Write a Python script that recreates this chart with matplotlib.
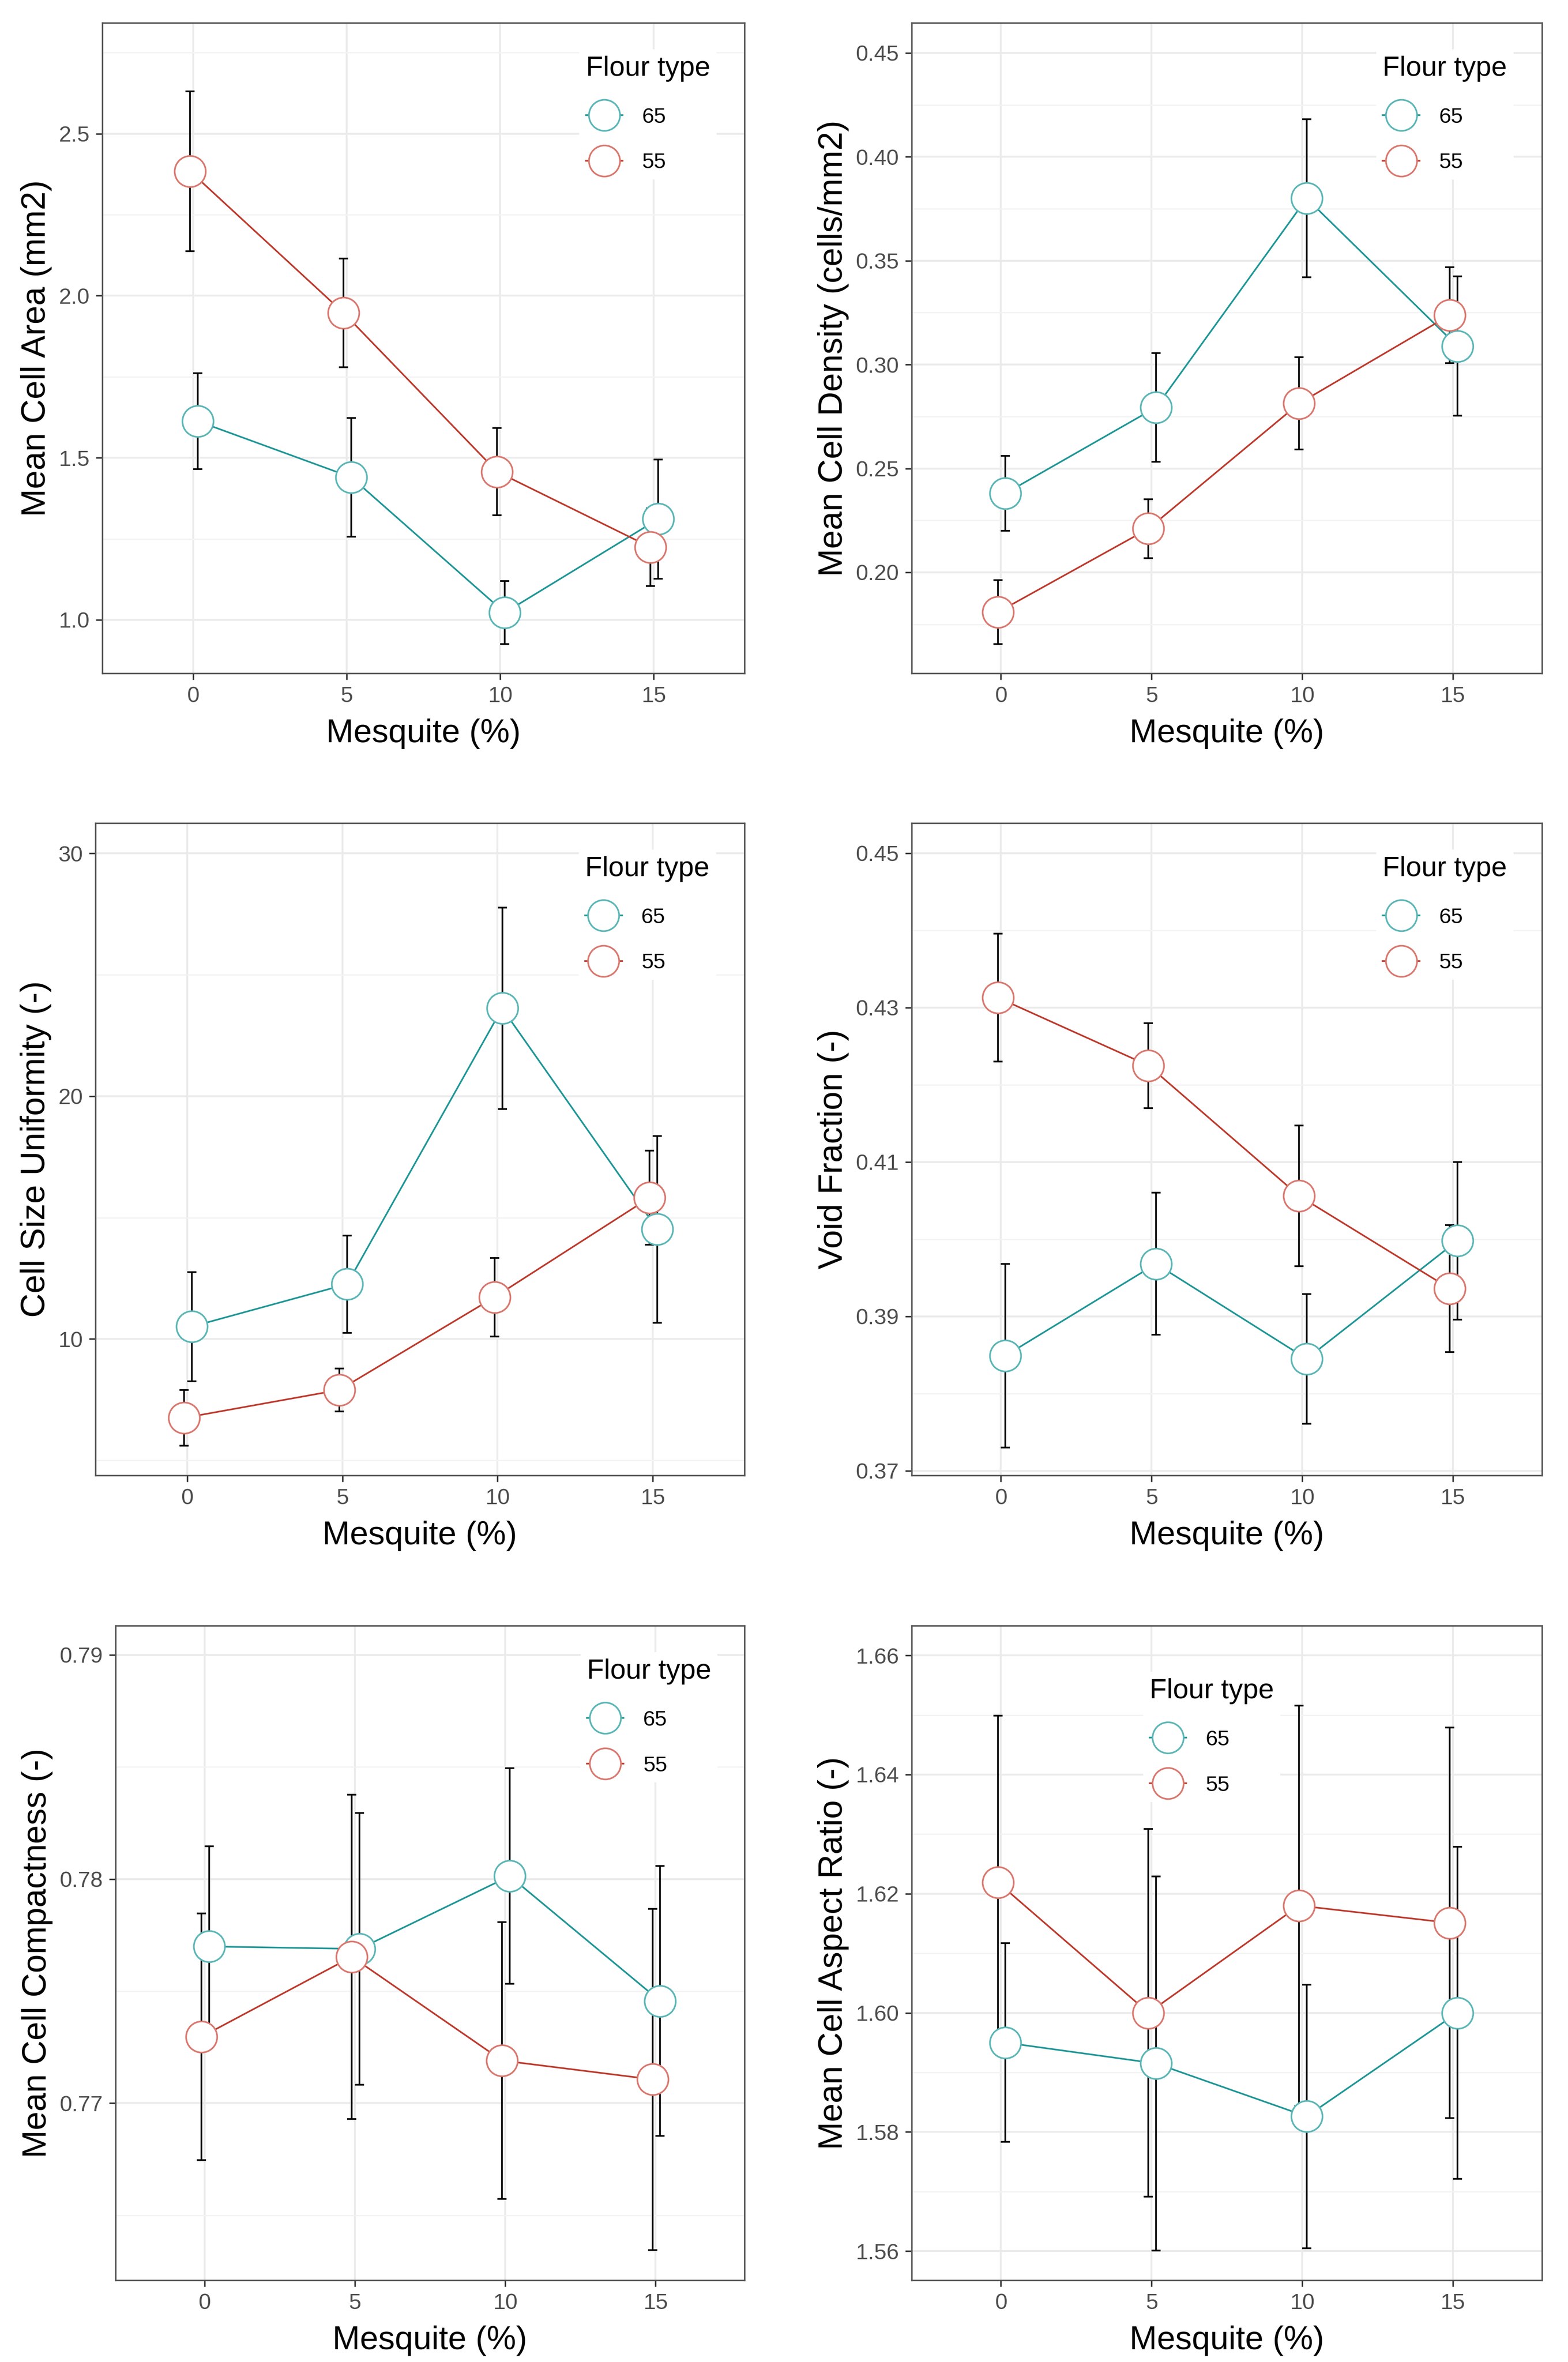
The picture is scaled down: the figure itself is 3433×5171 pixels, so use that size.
import numpy as np
import matplotlib.pyplot as plt
from matplotlib.lines import Line2D

plt.rcParams['font.family'] = ['Liberation Sans', 'DejaVu Sans']

mesquite = [0, 5, 10, 15]
flour_types = ['65', '55']
x_ticks = [0, 5, 10, 15]

# means and half error bars
area_65 = [1.613, 1.440, 1.022, 1.311]
area_65_err = [0.148, 0.183, 0.097, 0.184]
area_55 = [2.384, 1.947, 1.457, 1.224]
area_55_err = [0.247, 0.168, 0.135, 0.120]

density_65 = [0.2380, 0.2794, 0.3800, 0.3089]
density_65_err = [0.0181, 0.0261, 0.0380, 0.0336]
density_55 = [0.1808, 0.2210, 0.2813, 0.3238]
density_55_err = [0.0154, 0.0141, 0.0222, 0.0230]

uniform_65 = [10.51, 12.26, 23.62, 14.52]
uniform_65_err = [2.25, 2.00, 4.15, 3.85]
uniform_55 = [6.75, 7.90, 11.72, 15.82]
uniform_55_err = [1.15, 0.88, 1.62, 1.94]

void_65 = [0.3849, 0.3968, 0.3845, 0.3998]
void_65_err = [0.0119, 0.0092, 0.0084, 0.0102]
void_55 = [0.4313, 0.4225, 0.4056, 0.3936]
void_55_err = [0.0083, 0.0055, 0.0091, 0.0082]

compact_65 = [0.77699, 0.77688, 0.78013, 0.77456]
compact_65_err = [0.00447, 0.00606, 0.00481, 0.00603]
compact_55 = [0.77296, 0.77653, 0.77190, 0.77106]
compact_55_err = [0.00550, 0.00723, 0.00617, 0.00761]

aspect_65 = [1.5950, 1.5915, 1.5826, 1.6000]
aspect_65_err = [0.0167, 0.0314, 0.0221, 0.0279]
aspect_55 = [1.6219, 1.6000, 1.6180, 1.6151]
aspect_55_err = [0.0280, 0.0309, 0.0336, 0.0328]

area_ticks = [1.0, 1.5, 2.0, 2.5]
density_ticks = [0.20, 0.25, 0.30, 0.35, 0.40, 0.45]
uniform_ticks = [10, 20, 30]
void_ticks = [0.37, 0.39, 0.41, 0.43, 0.45]
compact_ticks = [0.77, 0.78, 0.79]
aspect_ticks = [1.56, 1.58, 1.60, 1.62, 1.64, 1.66]

W, H = 3433, 5171
fig = plt.figure(figsize=(W / 100, H / 100), dpi=100)

line_col = {'65': '#1f9696', '55': '#bd3a2d'}
edge_col = {'65': '#5cb6b6', '55': '#d9786f'}
dodge = {'65': 0.15, '55': -0.1}


def panel(rect, ylabel, s65, e65, s55, e55, yticks, fmt, ylim, legend_xy):
    l, r, t, b = rect
    ax = fig.add_axes([l / W, 1 - b / H, (r - l) / W, (b - t) / H])
    series = {'65': (s65, e65), '55': (s55, e55)}
    xs = {k: np.array(mesquite) + dodge[k] for k in flour_types}
    for k in flour_types:
        ax.errorbar(xs[k], series[k][0], yerr=series[k][1], fmt='none',
                    ecolor='black', elinewidth=2.6, capsize=7, capthick=2.6, zorder=3)
    for k in flour_types:
        ax.plot(xs[k], series[k][0], color=line_col[k], lw=2.6, zorder=4)
    for k in flour_types:
        ax.plot(xs[k], series[k][0], 'o', ms=49, mfc='white', mec=edge_col[k],
                mew=2.6, zorder=5)

    ax.set_xticks(x_ticks)
    ax.set_yticks(yticks)
    ax.set_yticklabels([fmt.format(v) for v in yticks])
    step = yticks[1] - yticks[0]
    minors = [v + step / 2 for v in [yticks[0] - step] + list(yticks)]
    ax.set_yticks(minors, minor=True)
    ax.set_xlim(-2.96, 17.96)
    ax.set_ylim(*ylim)
    ax.tick_params(which='minor', length=0)
    ax.tick_params(which='major', length=10, width=2.4, color='#333333',
                   labelsize=35, labelcolor='#4d4d4d', pad=10)
    ax.grid(True, which='major', color='#ebebeb', lw=3, zorder=0)
    ax.grid(True, which='minor', axis='y', color='#f3f3f3', lw=2, zorder=0)
    ax.set_axisbelow(True)
    for sp in ax.spines.values():
        sp.set_color('#555555')
        sp.set_linewidth(2.4)
    ax.set_xlabel('Mesquite (%)', fontsize=52, labelpad=19)
    ax.set_ylabel(ylabel, fontsize=53, labelpad=10)

    handles = [Line2D([], [], color=line_col[k], lw=2.6, marker='o', ms=49,
                      mfc='white', mec=edge_col[k], mew=2.6) for k in flour_types]
    leg = ax.legend(handles, flour_types, title='Flour type', loc='upper left',
                    bbox_to_anchor=legend_xy, fontsize=34, title_fontsize=44,
                    frameon=True, facecolor='white', edgecolor='none', framealpha=1,
                    borderpad=0.3, handlelength=1.7, handletextpad=0.9,
                    labelspacing=1.18, alignment='left', numpoints=1)
    leg.set_zorder(6)
    return ax


panel((224, 1630, 50, 1474), 'Mean Cell Area (mm2)', area_65, area_65_err,
      area_55, area_55_err, area_ticks, '{:.1f}', (0.835, 2.842), (0.726, 0.976))
panel((1996, 3376, 50, 1474), 'Mean Cell Density (cells/mm2)', density_65, density_65_err,
      density_55, density_55_err, density_ticks, '{:.2f}', (0.1514, 0.4645), (0.72, 0.976))
panel((209, 1630, 1802, 3230), 'Cell Size Uniformity (-)', uniform_65, uniform_65_err,
      uniform_55, uniform_55_err, uniform_ticks, '{:.0f}', (4.38, 31.25), (0.728, 0.976))
panel((1996, 3376, 1802, 3230), 'Void Fraction (-)', void_65, void_65_err,
      void_55, void_55_err, void_ticks, '{:.2f}', (0.3694, 0.4539), (0.72, 0.976))
panel((253, 1630, 3559, 4992), 'Mean Cell Compactness (-)', compact_65, compact_65_err,
      compact_55, compact_55_err, compact_ticks, '{:.2f}', (0.7621, 0.7913), (0.722, 0.976))
panel((1996, 3376, 3559, 4992), 'Mean Cell Aspect Ratio (-)', aspect_65, aspect_65_err,
      aspect_55, aspect_55_err, aspect_ticks, '{:.2f}', (1.5551, 1.665), (0.35, 0.946))

fig.savefig('out.png', dpi=100, facecolor='white')
